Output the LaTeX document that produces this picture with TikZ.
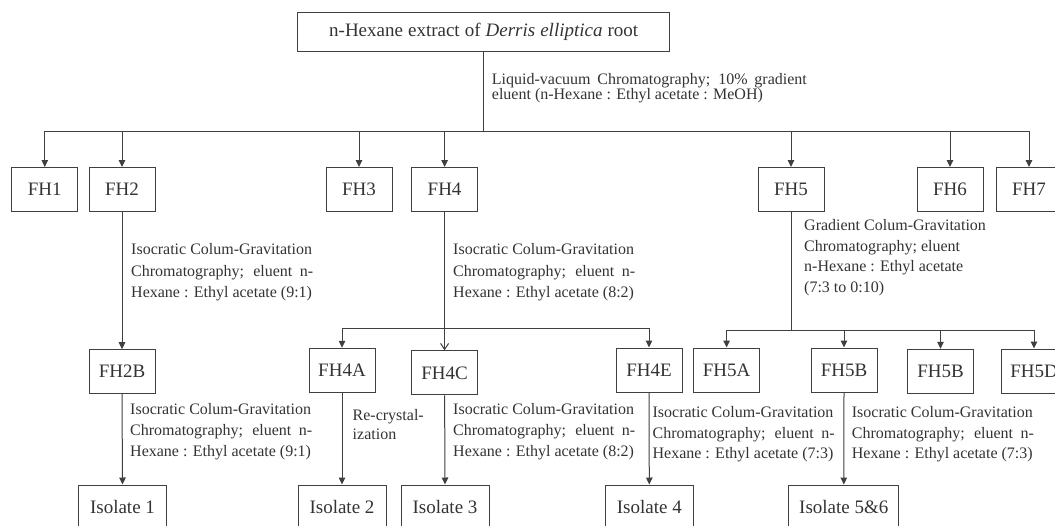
\documentclass[tikz,border=0pt]{standalone}
\usepackage{fontspec}
\setmainfont{Liberation Serif}
\usetikzlibrary{arrows.meta}
\definecolor{ink}{HTML}{333333}
\definecolor{wire}{HTML}{404040}
\tikzset{
  fhbox/.style={draw=wire, line width=1pt, minimum width=66pt, minimum height=44pt,
    inner sep=0pt, text=ink, font=\fontsize{19}{22}\selectfont},
  isobox/.style={fhbox, minimum width=88pt},
  lbl/.style={anchor=base west, align=left, inner sep=0pt, text=ink,
    font=\fontsize{16}{21.5}\selectfont},
  wireline/.style={draw=wire, line width=1pt},
  arr/.style={wireline, -{Triangle[length=7pt,width=6.5pt]}},
  openarr/.style={wireline, -{Straight Barb[length=6pt,width=8pt]}},
}
\newcommand{\jline}[2]{\makebox[#1][s]{#2}}
\begin{document}
\begin{tikzpicture}[x=1pt,y=-1pt]
\useasboundingbox (0,0) rectangle (1055,525);
\clip (0,0) rectangle (1055,525);

% title
\node[fhbox, minimum width=372pt, minimum height=39.5pt] (top) at (483.7,32)
  {\jline{309pt}{n-Hexane extract of \textit{Derris elliptica} root}};

% first row
\node[fhbox] (fh1) at (44.8,189.5) {FH1};
\node[fhbox] (fh2) at (122,189.5) {FH2};
\node[fhbox] (fh3) at (359,189.5) {FH3};
\node[fhbox] (fh4) at (444.6,189.5) {FH4};
\node[fhbox] (fh5) at (791,189.5) {FH5};
\node[fhbox] (fh6) at (950,189.5) {FH6};
\node[fhbox] (fh7) at (1029,189.5) {FH7};

% second row
\node[fhbox] (fh2b) at (122,371.7) {FH2B};
\node[fhbox] (fh4a) at (342,370.3) {FH4A};
\node[fhbox] (fh4c) at (444.6,372.8) {FH4C};
\node[fhbox] (fh4e) at (649,370) {FH4E};
\node[fhbox] (fh5a) at (726.6,370) {FH5A};
\node[fhbox] (fh5b) at (844,370) {FH5B};
\node[fhbox] (fh5bb) at (940.5,371.3) {FH5B};
\node[fhbox] (fh5d) at (1034,371) {FH5D};

% isolates
\node[isobox] (iso1) at (122.5,507) {Isolate 1};
\node[isobox] (iso2) at (342,507) {Isolate 2};
\node[isobox] (iso3) at (445,507) {Isolate 3};
\node[isobox] (iso4) at (649.3,507) {Isolate 4};
\node[isobox, minimum width=110pt] (iso56) at (843.8,507) {Isolate 5\&6};

% main bus
\coordinate (busA) at (483.7,131);
\draw[wireline] (top.south) -- (busA);
\draw[wireline] (fh1.north |- busA) -- (fh7.north |- busA);
\foreach \n in {fh1,fh2,fh3,fh4,fh5,fh6,fh7}
  \draw[arr] (\n.north |- busA) -- (\n.north);

% FH2 branch
\draw[arr] (fh2.south) -- (fh2b.north);
\draw[arr] (fh2b.south) -- (iso1.north);

% FH4 branch
\coordinate (busB) at (444.6,328.3);
\draw[openarr] (fh4.south) -- (fh4c.north);
\draw[wireline] (fh4a.north |- busB) -- (fh4e.north |- busB);
\draw[arr] (fh4a.north |- busB) -- (fh4a.north);
\draw[arr] (fh4e.north |- busB) -- (fh4e.north);
\draw[arr] (fh4a.south) -- (iso2.north);
\draw[arr] (fh4c.south) -- (iso3.north);
\draw[arr] (fh4e.south) -- (iso4.north);

% FH5 branch
\coordinate (busC) at (791,330);
\draw[wireline] (fh5.south) -- (busC);
\draw[wireline] (fh5a.north |- busC) -- (fh5d.north |- busC);
\foreach \n in {fh5a,fh5b,fh5bb,fh5d}
  \draw[arr] (\n.north |- busC) -- (\n.north);
\draw[arr] (fh5b.south) -- (iso56.north);

% labels (anchor = baseline of the last line)
\node[lbl, font=\fontsize{16}{15}\selectfont] (l0) at (491.7,99)
  {\jline{315pt}{Liquid-vacuum Chromatography; 10\% gradient}\\eluent (n-Hexane : Ethyl acetate : MeOH)};
\node[lbl] (l2) at (131,297.5)
  {Isocratic Colum-Gravitation\\\jline{182pt}{Chromatography; eluent n-}\\Hexane : Ethyl acetate (9:1)};
\node[lbl] (l4) at (453,297.5)
  {Isocratic Colum-Gravitation\\\jline{182pt}{Chromatography; eluent n-}\\Hexane : Ethyl acetate (8:2)};
\node[lbl, font=\fontsize{16}{20.7}\selectfont] (l5) at (804,292.6)
  {Gradient Colum-Gravitation\\Chromatography; eluent\\n-Hexane : Ethyl acetate\\(7:3 to 0:10)};
\node[lbl, font=\fontsize{16}{21}\selectfont] (l2b) at (130,456.5)
  {Isocratic Colum-Gravitation\\\jline{182pt}{Chromatography; eluent n-}\\Hexane : Ethyl acetate (9:1)};
\node[lbl, font=\fontsize{16}{19}\selectfont] (lrc) at (352.5,439.5)
  {Re-crystal-\\ization};
\node[lbl, font=\fontsize{16}{21}\selectfont] (l4c) at (453,456.5)
  {Isocratic Colum-Gravitation\\\jline{182pt}{Chromatography; eluent n-}\\Hexane : Ethyl acetate (8:2)};
\node[lbl, font=\fontsize{16}{20.5}\selectfont] (l4e) at (652.4,458.5)
  {Isocratic Colum-Gravitation\\\jline{182pt}{Chromatography; eluent n-}\\Hexane : Ethyl acetate (7:3)};
\node[lbl, font=\fontsize{16}{20.5}\selectfont] (l5b) at (851.7,458.5)
  {Isocratic Colum-Gravitation\\\jline{182pt}{Chromatography; eluent n-}\\Hexane : Ethyl acetate (7:3)};
\end{tikzpicture}
\end{document}
